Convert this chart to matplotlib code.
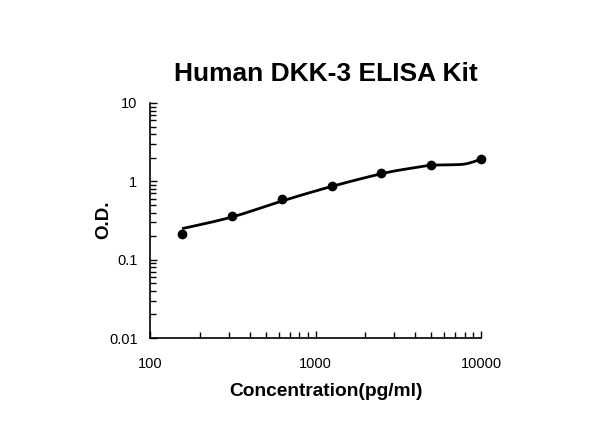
import numpy as np
import matplotlib
matplotlib.use("Agg")
import matplotlib.pyplot as plt
from matplotlib.ticker import LogLocator, NullFormatter, FixedLocator, FixedFormatter

# standards (points)
conc = [156.25, 312.5, 625, 1250, 2500, 5000, 10000]
od = [0.21, 0.357, 0.59, 0.88, 1.28, 1.61, 1.93]
# fitted standard curve
curve_conc = [156.25, 312.5, 625, 1250, 2500, 3700, 5000, 7500, 8800, 10000]
curve_od = [0.249, 0.35, 0.56, 0.86, 1.25, 1.46, 1.60, 1.64, 1.75, 1.93]
x_ticks = [100, 1000, 10000]
x_labels = ["100", "1000", "10000"]
y_ticks = [0.01, 0.1, 1, 10]
y_labels = ["0.01", "0.1", "1", "10"]


def smooth(xv, yv, n=30):
    """Catmull-Rom smoothing through the read curve points (log-log space)."""
    P = np.column_stack([np.log10(xv), np.log10(yv)])
    P = np.vstack([P[0], P, P[-1]])
    out = []
    t = np.linspace(0, 1, n)[:, None]
    for i in range(1, len(P) - 2):
        p0, p1, p2, p3 = P[i - 1], P[i], P[i + 1], P[i + 2]
        seg = 0.5 * ((2 * p1) + (-p0 + p2) * t + (2 * p0 - 5 * p1 + 4 * p2 - p3) * t ** 2
                     + (-p0 + 3 * p1 - 3 * p2 + p3) * t ** 3)
        out.append(seg if i == 1 else seg[1:])
    out = np.vstack(out)
    return 10 ** out[:, 0], 10 ** out[:, 1]


fig = plt.figure(figsize=(6, 4.47), dpi=100)
ax = fig.add_axes([0.25, 0.2438, 0.5517, 0.5258])
ax.set_xscale("log")
ax.set_yscale("log")
ax.set_xlim(100, 10000)
ax.set_ylim(0.01, 10)

cx, cy = smooth(curve_conc, curve_od)
ax.plot(cx, cy, color="black", lw=2.0, solid_capstyle="butt", zorder=2)
ax.plot(conc, od, "o", color="black", ms=6, zorder=3, clip_on=False)

for s in ["top", "right"]:
    ax.spines[s].set_visible(False)
for s in ["left", "bottom"]:
    ax.spines[s].set_linewidth(1.2)

ax.xaxis.set_major_locator(FixedLocator(x_ticks))
ax.xaxis.set_major_formatter(FixedFormatter(x_labels))
ax.yaxis.set_major_locator(FixedLocator(y_ticks))
ax.yaxis.set_major_formatter(FixedFormatter(y_labels))
ax.xaxis.set_minor_locator(LogLocator(base=10, subs=np.arange(2, 10)))
ax.yaxis.set_minor_locator(LogLocator(base=10, subs=np.arange(2, 10)))
ax.xaxis.set_minor_formatter(NullFormatter())
ax.yaxis.set_minor_formatter(NullFormatter())
ax.tick_params(which="major", direction="in", length=5, width=1, labelsize=10.5, colors="black")
ax.tick_params(which="minor", direction="in", length=4, width=1)
ax.tick_params(axis="x", which="major", pad=14)
ax.tick_params(axis="y", which="major", pad=9)
for lab in ax.get_xticklabels() + ax.get_yticklabels():
    lab.set_family("Liberation Sans")

fig.text(0.5425, 1 - 74 / 447, "Human DKK-3 ELISA Kit", ha="center", va="center",
         fontsize=19, fontweight="bold", family="Liberation Sans")
fig.text(0.5433, 1 - 392 / 447, "Concentration(pg/ml)", ha="center", va="center",
         fontsize=13.8, fontweight="bold", family="Liberation Sans")
fig.text(104 / 600, 1 - 220 / 447, "O.D.", ha="center", va="center", rotation=90,
         fontsize=13.5, fontweight="bold", family="Liberation Sans")

fig.savefig("out.png", dpi=100)
